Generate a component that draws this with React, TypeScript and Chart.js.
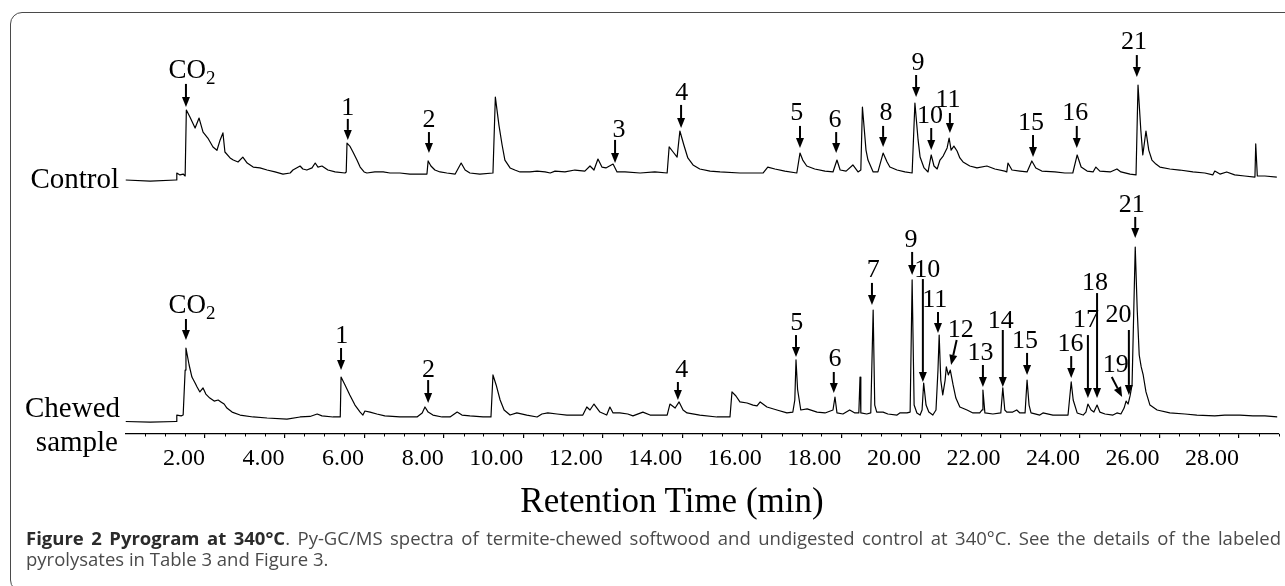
import React, { useEffect, useRef } from 'react';
import { Chart, registerables } from 'chart.js';

Chart.register(...registerables);

// ---- Control trace (retention time in min, relative abundance) ----
const controlTime = [
  0, 0.62, 1.27, 1.29, 1.37, 1.45, 1.5, 1.53, 1.62, 1.75,
  1.85, 1.95, 2.07, 2.2, 2.3, 2.38, 2.45, 2.5, 2.63, 2.71,
  2.83, 2.95, 3.06, 3.21, 3.38, 3.56, 3.76, 3.96, 4.14, 4.21,
  4.39, 4.46, 4.56, 4.69, 4.77, 4.84, 4.94, 5.09, 5.27, 5.52,
  5.55, 5.57, 5.64, 5.72, 5.82, 5.9, 6.0, 6.07, 6.27, 6.48,
  6.65, 6.9, 7.15, 7.4, 7.58, 7.61, 7.68, 7.78, 7.91, 8.08,
  8.29, 8.44, 8.54, 8.66, 8.91, 9.24, 9.3, 9.39, 9.47, 9.54,
  9.67, 9.79, 9.92, 10.17, 10.35, 10.55, 10.68, 10.8, 11.05, 11.3,
  11.55, 11.68, 11.78, 11.88, 11.98, 12.08, 12.26, 12.36, 12.56, 12.94,
  13.31, 13.62, 13.67, 13.77, 13.87, 13.94, 14.04, 14.14, 14.27, 14.44,
  14.7, 14.95, 15.45, 16.03, 16.15, 16.33, 16.58, 16.88, 16.96, 17.03,
  17.13, 17.33, 17.59, 17.79, 17.89, 17.97, 18.12, 18.29, 18.42, 18.49,
  18.53, 18.62, 18.67, 18.8, 18.92, 19.05, 19.15, 19.22, 19.4, 19.6,
  19.78, 19.85, 19.93, 19.98, 20.08, 20.18, 20.26, 20.33, 20.41, 20.48,
  20.56, 20.61, 20.66, 20.71, 20.76, 20.83, 20.91, 20.98, 21.06, 21.23,
  21.41, 21.66, 21.86, 22.11, 22.16, 22.19, 22.29, 22.49, 22.67, 22.79,
  22.89, 23.04, 23.37, 23.62, 23.82, 23.93, 24.03, 24.18, 24.33, 24.4,
  24.5, 24.76, 24.93, 25.03, 25.26, 25.41, 25.46, 25.53, 25.58, 25.66,
  25.73, 25.81, 25.91, 26.01, 26.26, 26.51, 26.84, 27.14, 27.34, 27.39,
  27.52, 27.69, 27.89, 28.14, 28.4, 28.42, 28.46, 28.65, 28.95,
];
const controlSignal = [
  0, -0.6, 0, 4.0, 2.9, 3.4, 2.3, 40.0, 36.0, 29.7,
  35.4, 27.4, 24.0, 18.9, 17.0, 22.9, 26.9, 16.0, 12.6, 11.4,
  10.3, 13.1, 9.7, 7.4, 6.9, 5.7, 4.6, 3.4, 4.0, 5.7,
  8.0, 6.3, 5.7, 6.9, 9.7, 7.4, 8.0, 5.7, 4.6, 4.0,
  4.6, 21.1, 19.4, 16.0, 11.4, 7.4, 4.6, 4.0, 4.6, 4.6,
  4.0, 4.0, 3.4, 3.4, 3.4, 10.9, 8.0, 5.7, 4.6, 4.0,
  3.4, 9.7, 5.7, 4.0, 3.4, 4.0, 47.4, 31.4, 20.0, 11.4,
  6.9, 5.7, 4.6, 4.6, 5.1, 4.6, 4.0, 5.1, 4.6, 5.7,
  5.1, 8.0, 5.7, 12.0, 7.4, 6.9, 9.1, 4.6, 4.6, 4.0,
  4.6, 4.0, 18.9, 16.0, 13.1, 28.0, 20.0, 12.6, 8.6, 6.3,
  5.1, 4.6, 4.0, 4.0, 7.4, 6.3, 5.1, 4.0, 15.4, 11.4,
  8.0, 6.3, 5.1, 4.6, 11.4, 5.7, 5.1, 8.6, 4.6, 5.7,
  41.7, 17.1, 11.4, 4.6, 4.6, 15.4, 10.3, 7.4, 5.7, 4.6,
  4.0, 44.0, 22.9, 13.1, 6.9, 4.6, 14.3, 8.0, 6.3, 11.4,
  13.7, 16.0, 18.3, 24.0, 17.1, 19.4, 16.6, 12.6, 10.3, 8.0,
  6.9, 8.0, 6.3, 5.1, 4.6, 9.7, 5.7, 5.1, 4.6, 10.9,
  6.9, 5.1, 4.6, 4.0, 4.0, 14.3, 7.4, 5.1, 4.6, 7.4,
  5.1, 4.6, 6.3, 4.6, 3.4, 2.9, 54.3, 28.6, 14.3, 28.0,
  17.1, 11.4, 9.1, 7.4, 6.3, 5.7, 4.6, 4.0, 2.9, 5.1,
  3.4, 4.6, 2.9, 2.3, 1.7, 20.6, 2.3, 2.3, 1.7,
];

// ---- Chewed sample trace ----
const chewedTime = [
  0, 0.62, 1.27, 1.29, 1.4, 1.45, 1.5, 1.52, 1.6, 1.67,
  1.75, 1.8, 1.87, 1.95, 2.02, 2.12, 2.23, 2.33, 2.4, 2.48,
  2.55, 2.68, 2.88, 3.21, 3.56, 4.06, 4.39, 4.64, 4.82, 4.94,
  5.22, 5.4, 5.42, 5.52, 5.64, 5.77, 5.9, 5.97, 6.02, 6.15,
  6.32, 6.52, 6.9, 7.33, 7.46, 7.53, 7.61, 7.73, 7.96, 8.16,
  8.34, 8.46, 8.66, 8.99, 9.19, 9.24, 9.32, 9.42, 9.52, 9.67,
  9.84, 10.09, 10.35, 10.47, 10.62, 10.85, 11.1, 11.5, 11.6, 11.68,
  11.78, 11.93, 12.1, 12.18, 12.26, 12.43, 12.63, 12.76, 13.01, 13.19,
  13.62, 13.69, 13.82, 13.92, 14.02, 14.12, 14.44, 14.87, 15.2, 15.25,
  15.35, 15.45, 15.63, 15.78, 15.88, 15.96, 16.13, 16.38, 16.63, 16.78,
  16.83, 16.86, 16.9, 16.98, 17.14, 17.39, 17.59, 17.79, 17.84, 17.89,
  18.04, 18.21, 18.34, 18.44, 18.47, 18.49, 18.64, 18.74, 18.8, 18.84,
  18.89, 19.05, 19.17, 19.4, 19.47, 19.65, 19.73, 19.78, 19.83, 19.9,
  19.98, 20.03, 20.07, 20.13, 20.2, 20.3, 20.38, 20.43, 20.46, 20.5,
  20.55, 20.61, 20.64, 20.69, 20.74, 20.81, 20.88, 20.98, 21.16, 21.31,
  21.48, 21.54, 21.56, 21.61, 21.81, 22.01, 22.06, 22.11, 22.16, 22.31,
  22.41, 22.49, 22.62, 22.67, 22.72, 22.77, 22.99, 23.07, 23.32, 23.7,
  23.78, 23.83, 23.93, 24.08, 24.15, 24.2, 24.28, 24.35, 24.43, 24.5,
  24.63, 24.83, 24.93, 25.03, 25.11, 25.16, 25.21, 25.26, 25.31, 25.39,
  25.44, 25.49, 25.54, 25.59, 25.66, 25.76, 25.94, 26.26, 26.64, 26.94,
  27.39, 27.64, 28.02, 28.35, 28.65, 28.96,
];
const chewedSignal = [
  -0.3, -0.6, -0.3, 3.4, 2.9, 3.4, 29.1, 41.7, 32.0, 25.1,
  21.7, 19.4, 16.6, 18.9, 15.4, 13.1, 11.4, 12.0, 10.9, 9.7,
  7.4, 5.1, 3.4, 2.3, 1.7, 1.1, 2.3, 2.6, 4.0, 2.9,
  2.3, 2.3, 25.1, 20.6, 14.9, 9.1, 5.1, 3.4, 5.7, 5.1,
  4.0, 2.9, 2.3, 2.3, 4.6, 8.0, 5.1, 3.4, 2.3, 2.3,
  5.1, 3.4, 2.9, 2.3, 2.3, 26.3, 20.6, 12.0, 6.3, 3.4,
  4.6, 3.4, 2.3, 4.0, 4.6, 4.0, 3.4, 3.4, 8.0, 6.3,
  9.7, 5.1, 3.4, 8.0, 4.6, 4.6, 4.0, 2.9, 5.1, 3.4,
  3.4, 9.7, 7.4, 10.9, 6.3, 4.6, 3.4, 2.3, 2.3, 16.6,
  14.3, 10.9, 10.3, 9.1, 8.6, 10.9, 8.0, 6.3, 4.6, 5.1,
  12.0, 34.9, 18.0, 6.3, 6.9, 5.1, 4.6, 6.3, 13.7, 4.6,
  4.0, 6.3, 4.6, 4.6, 25.1, 4.6, 4.0, 4.6, 63.4, 9.1,
  5.1, 5.1, 4.0, 3.4, 4.6, 4.6, 5.1, 80.6, 9.1, 4.6,
  3.4, 6.3, 21.7, 9.1, 5.1, 3.4, 6.3, 29.1, 49.1, 23.4,
  14.9, 23.4, 30.9, 26.3, 29.1, 20.6, 13.1, 8.0, 6.3, 4.6,
  4.6, 6.3, 17.7, 4.6, 4.0, 4.6, 18.9, 6.3, 5.1, 5.1,
  6.3, 4.6, 4.6, 23.4, 9.1, 4.6, 3.4, 4.6, 3.4, 3.4,
  22.3, 12.0, 4.6, 3.4, 5.1, 9.7, 6.3, 5.1, 9.1, 5.1,
  4.0, 3.4, 4.6, 4.0, 7.4, 11.4, 9.7, 14.3, 20.6, 99.4,
  63.4, 37.7, 30.9, 26.3, 16.6, 9.1, 6.3, 4.6, 4.0, 3.4,
  2.9, 3.4, 3.4, 2.9, 2.9, 2.3,
];

// ---- Peak labels: [label, labelTime, labelLevel, tailTime, tailLevel, tipTime, tipLevel] ----
type Mark = [string, number, number, number, number, number, number];
const controlMarks: Mark[] = [
  ['CO2', 1.67, 58.3, 1.52, 54.9, 1.52, 41.7],
  ['1', 5.59, 37.1, 5.59, 34.9, 5.59, 22.9],
  ['2', 7.63, 30.3, 7.63, 27.4, 7.63, 15.4],
  ['3', 12.41, 24.6, 12.31, 22.9, 12.31, 9.7],
  ['4', 13.99, 45.7, 13.97, 42.9, 13.97, 29.7],
  ['5', 16.88, 34.3, 16.96, 30.9, 16.96, 18.3],
  ['6', 17.84, 30.3, 17.87, 27.4, 17.87, 15.4],
  ['8', 19.12, 34.3, 19.05, 30.9, 19.05, 18.9],
  ['9', 19.93, 62.9, 19.88, 60.0, 19.88, 47.4],
  ['10', 20.23, 32.6, 20.26, 29.7, 20.26, 17.1],
  ['11', 20.68, 41.7, 20.73, 38.3, 20.73, 26.9],
  ['15', 22.77, 28.6, 22.82, 25.7, 22.82, 13.1],
  ['16', 23.88, 34.3, 23.92, 30.9, 23.92, 18.3],
  ['21', 25.36, 74.9, 25.43, 71.4, 25.43, 58.9],
];
const chewedMarks: Mark[] = [
  ['CO2', 1.67, 61.7, 1.52, 58.3, 1.52, 46.3],
  ['1', 5.44, 44.6, 5.42, 41.7, 5.42, 29.1],
  ['2', 7.62, 25.1, 7.61, 23.4, 7.61, 10.3],
  ['4', 13.99, 25.1, 13.89, 22.3, 13.89, 12.0],
  ['5', 16.88, 52.0, 16.86, 49.1, 16.86, 36.6],
  ['6', 17.84, 31.4, 17.81, 28.0, 17.81, 16.0],
  ['7', 18.8, 82.3, 18.77, 78.9, 18.77, 66.3],
  ['9', 19.75, 99.4, 19.78, 96.6, 19.78, 83.4],
  ['10', 20.16, 82.3, 20.05, 81.1, 20.05, 22.3],
  ['11', 20.35, 65.1, 20.43, 62.3, 20.43, 50.3],
  ['12', 21.0, 48.0, 20.9, 46.3, 20.76, 32.0],
  ['13', 21.5, 34.9, 21.56, 32.0, 21.56, 19.4],
  ['14', 22.01, 53.1, 22.06, 52.0, 22.06, 19.4],
  ['15', 22.62, 41.7, 22.67, 38.9, 22.67, 26.3],
  ['16', 23.76, 40.0, 23.78, 37.1, 23.78, 24.6],
  ['17', 24.15, 53.7, 24.2, 49.1, 24.2, 13.1],
  ['18', 24.38, 74.9, 24.43, 73.1, 24.43, 13.1],
  ['19', 24.9, 28.0, 24.8, 25.1, 25.06, 13.7],
  ['20', 24.97, 56.6, 25.23, 52.0, 25.23, 14.9],
  ['21', 25.3, 119.4, 25.39, 116.6, 25.39, 104.6],
];

const SERIF = '"Liberation Serif", "Times New Roman", serif';

function drawMarks(chart: any, marks: Mark[], axisId: string) {
  const ctx: CanvasRenderingContext2D = chart.ctx;
  const xs = chart.scales.x;
  const ys = chart.scales[axisId];
  ctx.save();
  ctx.fillStyle = '#000';
  ctx.strokeStyle = '#000';
  for (const [label, lt, lv, at, av, tt, tv] of marks) {
    const lx = xs.getPixelForValue(lt);
    const ly = ys.getPixelForValue(lv);
    const ax = xs.getPixelForValue(at);
    const ay = ys.getPixelForValue(av);
    const tx = xs.getPixelForValue(tt);
    const ty = ys.getPixelForValue(tv);
    const dx = tx - ax;
    const dy = ty - ay;
    const len = Math.hypot(dx, dy) || 1;
    const ux = dx / len;
    const uy = dy / len;
    const headL = 10;
    const headW = 4;
    const bx = tx - ux * headL;
    const by = ty - uy * headL;
    ctx.lineWidth = 2;
    ctx.lineCap = 'butt';
    ctx.beginPath();
    ctx.moveTo(ax, ay);
    ctx.lineTo(bx, by);
    ctx.stroke();
    ctx.beginPath();
    ctx.moveTo(tx, ty);
    ctx.lineTo(bx - uy * headW, by + ux * headW);
    ctx.lineTo(bx + uy * headW, by - ux * headW);
    ctx.closePath();
    ctx.fill();

    ctx.textBaseline = 'alphabetic';
    if (label === 'CO2') {
      ctx.font = `27px ${SERIF}`;
      const wMain = ctx.measureText('CO').width;
      ctx.font = `19px ${SERIF}`;
      const wSub = ctx.measureText('2').width;
      const start = lx - (wMain + wSub) / 2;
      ctx.textAlign = 'left';
      ctx.font = `27px ${SERIF}`;
      ctx.fillText('CO', start, ly);
      ctx.font = `19px ${SERIF}`;
      ctx.fillText('2', start + wMain, ly + 6);
    } else {
      ctx.font = `26px ${SERIF}`;
      ctx.textAlign = 'center';
      ctx.fillText(label, lx, ly);
    }
  }
  ctx.restore();
}

const isMajor = (v: number) => v > 0 && Math.abs(v % 2) < 1e-6;

export default function App() {
  const ref = useRef<HTMLCanvasElement>(null);

  useEffect(() => {
    const canvas = ref.current;
    if (!canvas) return;

    const marksPlugin = {
      id: 'peakMarks',
      afterDatasetsDraw(chart: any) {
        drawMarks(chart, controlMarks, 'yCtrl');
        drawMarks(chart, chewedMarks, 'yChew');
      },
    };
    const minorTicks = {
      id: 'minorTicks',
      afterDraw(chart: any) {
        const xs = chart.scales.x;
        const ctx: CanvasRenderingContext2D = chart.ctx;
        const y0 = chart.chartArea.bottom;
        ctx.save();
        ctx.strokeStyle = '#000';
        ctx.lineWidth = 1;
        xs.ticks.forEach((t: any) => {
          if (t.value > 0 && !isMajor(t.value)) {
            const x = Math.round(xs.getPixelForValue(t.value)) + 0.5;
            ctx.beginPath();
            ctx.moveTo(x, y0);
            ctx.lineTo(x, y0 + 2.5);
            ctx.stroke();
          }
        });
        ctx.restore();
      },
    };

    const chart = new Chart(canvas, {
      type: 'line',
      data: {
        datasets: [
          {
            label: 'Control',
            data: controlTime.map((t, i) => ({ x: t, y: controlSignal[i] })),
            yAxisID: 'yCtrl',
            borderColor: '#000',
            borderWidth: 1.2,
            pointRadius: 0,
            tension: 0,
            fill: false,
            borderJoinStyle: 'round',
          },
          {
            label: 'Chewed sample',
            data: chewedTime.map((t, i) => ({ x: t, y: chewedSignal[i] })),
            yAxisID: 'yChew',
            borderColor: '#000',
            borderWidth: 1.2,
            pointRadius: 0,
            tension: 0,
            fill: false,
            borderJoinStyle: 'round',
          },
        ],
      },
      options: {
        animation: false,
        responsive: false,
        maintainAspectRatio: false,
        events: [],
        layout: { padding: { left: 125.5, right: 6.2, top: 20, bottom: 112 } },
        plugins: { legend: { display: false }, tooltip: { enabled: false } },
        scales: {
          x: {
            type: 'linear',
            min: 0,
            max: 29,
            afterFit: (s: any) => {
              s.height = 40;
            },
            border: { display: true, color: '#000', width: 1.2 },
            grid: {
              display: true,
              drawOnChartArea: false,
              drawTicks: true,
              tickLength: 4,
              lineWidth: 1.2,
              color: (c: any) => (c.tick && isMajor(c.tick.value) ? '#000' : 'rgba(0,0,0,0)'),
            },
            ticks: {
              stepSize: 0.5,
              autoSkip: false,
              maxRotation: 0,
              minRotation: 0,
              align: 'end',
              padding: 6,
              color: '#000',
              font: { family: SERIF, size: 24 },
              callback: (v: any) => (isMajor(Number(v)) ? Number(v).toFixed(2) : ''),
            },
          },
          yCtrl: { type: 'linear', display: false, min: -145.14, max: 91.43 },
          yChew: { type: 'linear', display: false, min: -7.43, max: 229.14 },
        },
      } as any,
      plugins: [marksPlugin, minorTicks],
    });
    return () => chart.destroy();
  }, []);

  const serifText = (size: number): React.CSSProperties => ({
    position: 'absolute',
    fontFamily: SERIF,
    fontSize: size,
    lineHeight: `${size}px`,
    color: '#000',
    whiteSpace: 'nowrap',
  });

  return (
    <div
      style={{
        position: 'absolute',
        left: 0,
        top: 0,
        width: 1285,
        height: 586,
        overflow: 'hidden',
        background: '#fff',
      }}
    >
      <div
        style={{
          position: 'absolute',
          left: 10,
          top: 12,
          width: 1300,
          height: 580,
          border: '1.5px solid #4a4a4a',
          borderRadius: 12,
          boxSizing: 'border-box',
        }}
      />
      <canvas ref={ref} width={1285} height={586} style={{ position: 'absolute', left: 0, top: 0 }} />
      <div style={{ ...serifText(29), left: 0, width: 119, textAlign: 'right', top: 163.7 }}>Control</div>
      <div style={{ ...serifText(29), left: 0, width: 120, textAlign: 'right', top: 392.7 }}>Chewed</div>
      <div style={{ ...serifText(29), left: 0, width: 118, textAlign: 'right', top: 427 }}>sample</div>
      <div style={{ ...serifText(35), left: 372, width: 600, textAlign: 'center', top: 483.2 }}>
        Retention Time (min)
      </div>
      <div
        style={{
          position: 'absolute',
          left: 26,
          top: 527.3,
          width: 1255,
          fontFamily: '"Open Sans", "Noto Sans", sans-serif',
          fontSize: 18.5,
          lineHeight: '21px',
          color: '#4a4a4a',
        }}
      >
        <div style={{ textAlign: 'justify', textAlignLast: 'justify', whiteSpace: 'normal' }}>
          <span style={{ fontWeight: 700, color: '#2b2b2b' }}>Figure 2 Pyrogram at 340°C</span>. Py-GC/MS spectra of
          termite-chewed softwood and undigested control at 340°C. See the details of the labeled
        </div>
        <div style={{ whiteSpace: 'nowrap' }}>pyrolysates in Table 3 and Figure 3.</div>
      </div>
    </div>
  );
}
